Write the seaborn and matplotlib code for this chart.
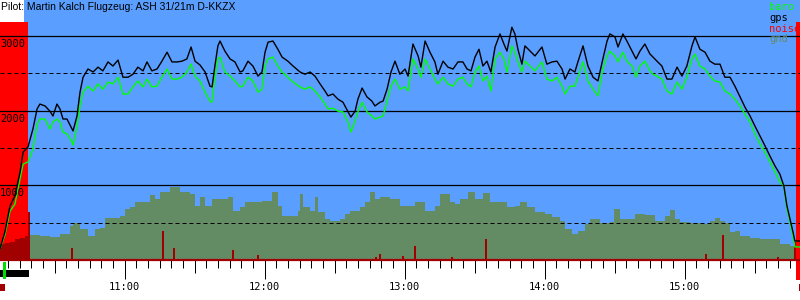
import matplotlib
matplotlib.use("Agg")
import matplotlib.pyplot as plt
import matplotlib.transforms as mtransforms
from matplotlib.patches import Rectangle
import numpy as np
import pandas as pd
import seaborn as sns

# barogram of one flight, time in minutes after 10:00, altitudes in m

t_track = [6.6, 8.7, 10.9, 13.0, 15.2, 16.5, 18.6, 20.7, 22.5, 23.7,
           25.9, 28.0, 29.3, 31.0, 32.3, 33.6, 35.3, 37.5, 37.9, 39.6,
           40.9, 42.2, 44.3, 46.5, 48.6, 50.7, 52.9, 55.0, 57.2, 59.3,
           61.5, 63.6, 65.7, 67.9, 69.6, 71.7, 73.9, 76.0, 78.2, 80.3,
           82.5, 84.6, 86.7, 88.5, 90.2, 92.3, 94.5, 96.6, 97.5, 98.7,
           100.0, 100.9, 103.0, 105.2, 107.3, 109.5, 110.7, 112.9, 115.0, 117.2,
           118.9, 120.2, 121.5, 123.6, 125.7, 127.5, 130.0, 132.2, 135.2, 137.3,
           139.5, 141.6, 143.8, 145.9, 147.2, 149.3, 151.5, 153.6, 155.8, 157.0,
           158.8, 160.0, 161.8, 163.9, 166.0, 167.3, 169.5, 170.8, 172.5, 174.2,
           175.9, 178.0, 180.2, 181.5, 183.6, 185.8, 187.0, 188.8, 190.9, 193.0,
           194.3, 196.5, 198.6, 200.8, 202.9, 205.0, 206.8, 208.5, 210.2, 211.9,
           213.6, 215.3, 217.0, 218.8, 220.9, 222.6, 223.9, 226.0, 227.3, 228.6,
           230.3, 231.6, 233.8, 235.9, 238.9, 241.0, 243.2, 245.3, 247.5, 248.8,
           250.9, 253.0, 254.3, 256.5, 258.6, 260.8, 262.9, 265.0, 266.8, 268.0,
           270.2, 271.5, 273.6, 275.3, 277.5, 279.2, 280.9, 283.0, 285.2, 286.5,
           288.2, 290.3, 292.5, 294.6, 296.8, 298.9, 301.0, 303.2, 304.5, 306.6,
           308.8, 310.9, 313.0, 315.2, 317.3, 319.5, 321.6, 323.8, 325.9, 328.1,
           330.2, 332.4, 334.5, 336.6, 338.8, 340.9, 342.6, 343.9, 345.2, 346.5,
           347.3, 349.5]

gps_alt = [150, 375, 725, 860, 1180, 1445, 1515, 1755, 2025, 2090,
           2065, 1995, 1930, 2090, 2025, 1890, 1890, 1755, 1730, 1930,
           2250, 2450, 2560, 2520, 2585, 2535, 2655, 2600, 2680, 2450,
           2450, 2490, 2585, 2535, 2655, 2535, 2560, 2665, 2785, 2655,
           2655, 2665, 2695, 2855, 2665, 2615, 2520, 2330, 2320, 2600,
           2870, 2935, 2800, 2695, 2655, 2520, 2535, 2665, 2600, 2465,
           2520, 2785, 2920, 2935, 2825, 2720, 2665, 2600, 2520, 2490,
           2520, 2465, 2360, 2265, 2200, 2225, 2155, 2115, 1985, 1915,
           1995, 2155, 2305, 2185, 2130, 2065, 2115, 2130, 2290, 2520,
           2665, 2490, 2560, 2465, 2895, 2735, 2585, 2935, 2785, 2655,
           2490, 2665, 2585, 2560, 2655, 2655, 2560, 2535, 2720, 2825,
           2600, 2665, 2520, 2855, 3030, 2895, 2800, 3120, 3030, 2825,
           2625, 2870, 2800, 2735, 2855, 2625, 2655, 2665, 2560, 2425,
           2560, 2520, 2655, 2870, 2600, 2450, 2400, 2695, 2935, 3030,
           2990, 2855, 3030, 2935, 2800, 2695, 2800, 2895, 2760, 2720,
           2665, 2600, 2425, 2425, 2585, 2465, 2600, 2870, 2990, 2825,
           2785, 2665, 2625, 2625, 2450, 2450, 2330, 2185, 2050, 1930,
           1795, 1660, 1530, 1395, 1260, 1150, 990, 725, 550, 375,
           255, 255]

baro_alt = [150, 335, 655, 750, 1085, 1285, 1315, 1485, 1820, 1890,
            1890, 1755, 1850, 1890, 1850, 1715, 1690, 1580, 1540, 1795,
            2065, 2250, 2330, 2265, 2360, 2290, 2385, 2360, 2450, 2225,
            2225, 2320, 2400, 2320, 2425, 2320, 2330, 2450, 2560, 2425,
            2425, 2450, 2520, 2625, 2465, 2400, 2250, 2130, 2115, 2450,
            2695, 2720, 2520, 2465, 2400, 2320, 2330, 2450, 2400, 2250,
            2290, 2600, 2695, 2720, 2600, 2520, 2450, 2385, 2320, 2290,
            2320, 2265, 2185, 2090, 2025, 2035, 1995, 1985, 1850, 1715,
            1865, 1985, 2115, 1985, 1930, 1890, 1915, 1930, 2130, 2330,
            2425, 2290, 2320, 2265, 2695, 2560, 2450, 2695, 2560, 2425,
            2360, 2450, 2360, 2330, 2425, 2450, 2360, 2320, 2520, 2600,
            2400, 2465, 2265, 2695, 2785, 2695, 2520, 2870, 2785, 2655,
            2520, 2665, 2600, 2535, 2655, 2425, 2400, 2450, 2330, 2225,
            2330, 2330, 2450, 2655, 2400, 2290, 2200, 2560, 2735, 2800,
            2735, 2655, 2785, 2665, 2600, 2450, 2600, 2665, 2535, 2490,
            2465, 2425, 2265, 2225, 2385, 2290, 2450, 2695, 2760, 2600,
            2560, 2465, 2400, 2385, 2265, 2225, 2155, 2065, 1955, 1850,
            1690, 1555, 1445, 1315, 1180, 1045, 990, 685, 510, 320,
            175, 175]

# terrain below the track
t_gnd = [19.5, 23.7, 28.0, 32.3, 36.6, 37.9, 40.9, 44.3, 47.3, 49.5,
         51.6, 55.9, 58.0, 60.2, 62.3, 64.5, 68.7, 70.9, 73.0, 75.2,
         79.5, 81.6, 83.7, 88.0, 90.2, 92.3, 94.5, 97.5, 101.7, 104.3,
         106.5, 109.5, 111.6, 115.9, 118.9, 122.3, 123.2, 125.7, 127.5, 130.9,
         134.3, 135.2, 136.5, 139.5, 141.6, 142.9, 145.9, 148.0, 152.3, 154.5,
         156.6, 160.9, 163.0, 165.2, 167.3, 169.5, 173.7, 178.0, 184.5, 188.8,
         193.0, 195.2, 197.3, 199.5, 201.6, 203.8, 207.2, 210.2, 213.6, 216.6,
         220.9, 223.9, 227.3, 229.5, 232.5, 235.9, 240.2, 243.2, 246.6, 248.8,
         251.8, 254.3, 257.3, 259.5, 263.8, 268.0, 269.8, 272.3, 276.6, 278.8,
         283.0, 287.3, 291.6, 293.8, 295.9, 298.1, 302.3, 306.6, 310.9, 313.0,
         315.2, 317.3, 319.5, 321.6, 323.8, 328.1, 332.4, 336.6, 340.9, 345.2,
         347.8]
gnd_alt = [335, 320, 310, 350, 455, 495, 415, 320, 415, 430,
           565, 565, 590, 685, 710, 775, 775, 870, 815, 910,
           980, 980, 910, 885, 725, 845, 725, 815, 815, 845,
           655, 710, 775, 775, 790, 790, 910, 725, 590, 590,
           655, 885, 710, 655, 845, 645, 550, 525, 550, 615,
           655, 710, 775, 910, 815, 845, 815, 725, 775, 655,
           725, 885, 885, 775, 750, 815, 910, 815, 900, 775,
           775, 710, 725, 775, 710, 645, 615, 575, 525, 415,
           350, 390, 480, 550, 495, 510, 685, 550, 550, 615,
           605, 525, 590, 670, 550, 510, 495, 480, 525, 565,
           525, 495, 375, 390, 320, 295, 280, 280, 215, 190,
           190]

# engine noise (drawn on the altitude scale)
t_noise_engine = [6.6, 8.7, 10.9, 13.0, 15.2, 17.3, 18.6, 19.5]
noise_engine = [215, 230, 240, 280, 295, 320, 645, 645]
t_noise = [37.5, 76.5, 81.2, 106.5, 117.2, 167.8, 169.5, 179.3, 184.5, 200.3,
           214.9, 309.2, 316.5, 340.0, 347.3]
noise = [160, 390, 160, 135, 65, 40, 80, 55, 190, 40,
         280, 80, 335, 40, 240]

engine_runs = [(6.6, 18.6), (347.8, 349.5)]

hour_ticks = [60, 120, 180, 240, 300]
hour_labels = ["11:00", "12:00", "13:00", "14:00", "15:00"]
alt_solid = [1000, 2000, 3000]
alt_dashed = [500, 1500, 2500]

title = "Pilot: Martin Kalch Flugzeug: ASH 31/21m D-KKZX"
legend_names = ["baro", "gps", "noise", "gnd"]

BLUE = "#5a9eff"
GND = "#648c64"
DARKRED = "#a00000"
legend_colors = ["#00ff00", "black", "red", GND]

df = pd.DataFrame({"t": t_track, "gps": gps_alt, "baro": baro_alt})

fig = plt.figure(figsize=(8, 3), dpi=100)
ax = fig.add_axes([0, 40 / 300, 1, 260 / 300])
ax.set_facecolor(BLUE)
ax.set_xlim(6.6, 349.5)
ax.set_ylim(0, 3485)

# engine running -> red background (top 22px stay free for the title)
top = 238 / 260
for i, (a, b) in enumerate(engine_runs):
    low = 0 if i == 0 else -20 / 260
    ax.add_patch(Rectangle((a, low), b - a, top - low, transform=ax.get_xaxis_transform(),
                           color="red", lw=0, zorder=0.5, clip_on=False))

# ground
ax.fill_between(t_gnd, gnd_alt, step="post", color=GND, lw=0, zorder=1)

# noise
ax.fill_between(t_noise_engine, noise_engine, step="post", color=DARKRED, lw=0, zorder=1.5)
ax.bar(t_noise, noise, width=0.8, color=DARKRED, lw=0, zorder=1.5)

# altitude lines
for h in alt_solid:
    ax.axhline(h, color="black", lw=0.9, zorder=2)
for h in alt_dashed:
    ax.axhline(h, color="black", lw=0.72, ls=(0, (4, 3)), zorder=2)

sns.lineplot(data=df, x="t", y="baro", color="#00ff00", lw=1.0, ax=ax, zorder=3, estimator=None)
sns.lineplot(data=df, x="t", y="gps", color="black", lw=1.0, ax=ax, zorder=4, estimator=None)

# altitude labels inside the plot
lab_tr = mtransforms.offset_copy(ax.get_yaxis_transform(), fig=fig, x=0, y=-3, units="dots")
for h in alt_solid:
    ax.text(0, h, str(h), transform=lab_tr, ha="left", va="top",
            fontsize=7.5, family="DejaVu Sans Mono", zorder=5)

# time axis
ax.set_xticks(hour_ticks, hour_labels)
ax.set_xticks(np.arange(10, 350, 5), minor=True)
ax.tick_params(axis="x", which="major", length=13.7, width=0.72, pad=2,
               labelsize=7.5, direction="out")
ax.tick_params(axis="x", which="minor", length=5.8, width=0.72, direction="out")
for lbl in ax.get_xticklabels():
    lbl.set_family("DejaVu Sans Mono")
sec = ax.secondary_xaxis("bottom")
sec.set_xticks(np.arange(30, 350, 60))
sec.tick_params(length=9.4, width=0.72, labelbottom=False)
sec.spines["bottom"].set_visible(False)

ax.set_yticks([])
ax.set_xlabel("")
ax.set_ylabel("")
for s in ["left", "right", "top"]:
    ax.spines[s].set_visible(False)
ax.spines["bottom"].set_color(DARKRED)
ax.spines["bottom"].set_linewidth(1.6)

# little status bars under the axis
xt = ax.get_xaxis_transform()
ax.add_patch(Rectangle((engine_runs[0][0], -0.065), 12.4, 0.027, transform=xt,
                       color="black", lw=0, clip_on=False))
ax.add_patch(Rectangle((7.9, -0.073), 1.3, 0.065, transform=xt,
                       color="#00dd00", lw=0, clip_on=False))
ax.add_patch(Rectangle((engine_runs[0][0], -0.119), 2.1, 0.027, transform=xt,
                       color=DARKRED, lw=0, clip_on=False))
ax.add_patch(Rectangle((349.0, -0.119), 0.5, 0.027, transform=xt,
                       color=DARKRED, lw=0, clip_on=False))

# title with white box behind "Pilot:"
fig.patches.append(Rectangle((0, 1 - 22 / 300), 24 / 800, 22 / 300,
                             transform=fig.transFigure, color="white", lw=0, zorder=1))
fig.text(1 / 800, 1 - 2 / 300, title, ha="left", va="top", fontsize=7.5,
         family="Liberation Sans", zorder=5)

# legend
for i, (name, c) in enumerate(zip(legend_names, legend_colors)):
    fig.text(769 / 800, 1 - (2 + 10.8 * i) / 300, name, ha="left", va="top",
             fontsize=7.5, family="DejaVu Sans Mono", color=c, zorder=5)

fig.savefig("out.png", dpi=100)
